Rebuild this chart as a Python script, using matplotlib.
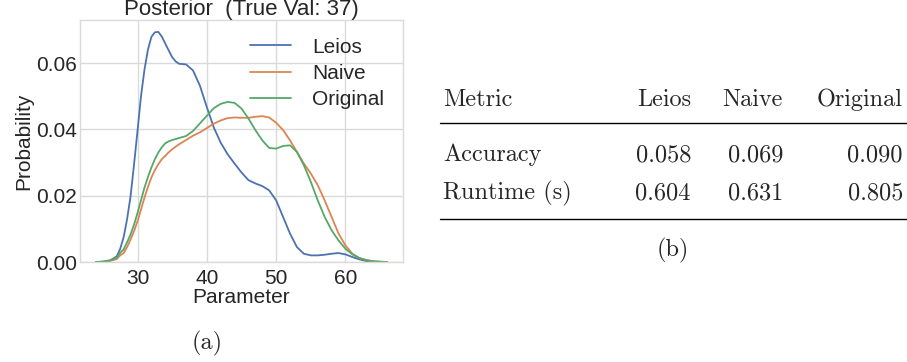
#!/usr/bin/env python3
"""Posterior densities (a) next to a small results table (b)."""

import matplotlib
matplotlib.use("Agg")
import matplotlib.pyplot as plt

# (a) posterior density curves
param = [24, 25, 26, 27, 27.5, 28, 28.5, 29, 29.5, 30, 30.5, 31, 31.5, 32,
         32.5, 33, 33.5, 34, 34.5, 35, 35.5, 36, 37, 38, 39, 40, 41, 42, 43,
         44, 45, 46, 47, 48, 49, 50, 51, 52, 53, 54, 55, 56, 57, 58, 59, 60,
         61, 62, 63, 64, 65, 66]
leios = [0.0, 0.0001, 0.0004, 0.0017, 0.004, 0.0075, 0.013, 0.0199, 0.0295,
         0.0396, 0.050, 0.058, 0.064, 0.0679, 0.0693, 0.0694, 0.068, 0.0659,
         0.0638, 0.0618, 0.0605, 0.0598, 0.0596, 0.0578, 0.0532, 0.0467,
         0.0406, 0.036, 0.0325, 0.0297, 0.027, 0.0247, 0.0237, 0.0229, 0.0216,
         0.0186, 0.0136, 0.0086, 0.0045, 0.0025, 0.0020, 0.0020, 0.0022,
         0.0025, 0.0027, 0.0023, 0.0015, 0.0008, 0.0003, 0.0001, 0.0, 0.0]
naive = [0.0, 0.0001, 0.0003, 0.0009, 0.002, 0.0027, 0.0045, 0.0068, 0.0093,
         0.0123, 0.0158, 0.0194, 0.0226, 0.0255, 0.0277, 0.0295, 0.031, 0.032,
         0.0331, 0.034, 0.0348, 0.0355, 0.0368, 0.0381, 0.0391, 0.0404,
         0.0417, 0.0427, 0.0434, 0.0436, 0.0435, 0.0435, 0.0438, 0.044,
         0.0436, 0.042, 0.0398, 0.0367, 0.0332, 0.0297, 0.0267, 0.0232,
         0.0186, 0.0136, 0.0086, 0.005, 0.0025, 0.0012, 0.0006, 0.0002,
         0.0001, 0.0]
original = [0.0, 0.0001, 0.0005, 0.0013, 0.0028, 0.0038, 0.006, 0.0083,
            0.0113, 0.0148, 0.0186, 0.0224, 0.0256, 0.0285, 0.031, 0.033,
            0.0346, 0.0358, 0.0364, 0.0368, 0.0371, 0.0374, 0.038, 0.0395,
            0.0418, 0.0441, 0.0464, 0.0477, 0.0483, 0.048, 0.0463, 0.0433,
            0.0398, 0.0367, 0.0344, 0.0342, 0.035, 0.0352, 0.0332, 0.0292,
            0.0242, 0.0186, 0.0136, 0.0096, 0.0065, 0.004, 0.0023, 0.0012,
            0.0006, 0.0002, 0.0001, 0.0]
series_names = ["Leios", "Naive", "Original"]
colors = ["#4C72B0", "#DD8452", "#55A868"]

# (b) results table
table_header = ["Metric", "Leios", "Naive", "Original"]
table_rows = [
    ["Accuracy", "0.058", "0.069", "0.090"],
    ["Runtime (s)", "0.604", "0.631", "0.805"],
]

plt.style.use("seaborn-v0_8-whitegrid")
SANS = ["Liberation Sans", "DejaVu Sans"]
SERIF = ["cmr10", "DejaVu Serif"]
TXT = "#262626"
TFS = 17.5

fig = plt.figure(figsize=(9.07, 3.62), dpi=100)

ax = fig.add_axes([0.0882, 0.2762, 0.3561, 0.6686])
for ys, name, c in zip([leios, naive, original], series_names, colors):
    ax.plot(param, ys, color=c, linewidth=1.3, label=name)

ax.set_xlim(21.7, 68.3)
ax.set_ylim(0, 0.073)
ax.set_xticks([30, 40, 50, 60])
ax.set_yticks([0.0, 0.02, 0.04, 0.06])
ax.set_yticklabels(["0.00", "0.02", "0.04", "0.06"])
for lab in ax.get_xticklabels() + ax.get_yticklabels():
    lab.set_fontfamily(SANS)
    lab.set_fontsize(15)
    lab.set_color(TXT)
ax.tick_params(axis="x", length=0, pad=5)
ax.tick_params(axis="y", length=0, pad=2)
ax.set_xlabel("Parameter", fontsize=15, family=SANS, color=TXT, labelpad=0)
ax.set_ylabel("Probability", fontsize=15, family=SANS, color=TXT, labelpad=2)
ax.set_title("Posterior  (True Val: 37)", fontsize=16, family=SANS, color=TXT, pad=2)
for s in ax.spines.values():
    s.set_visible(True)
    s.set_color("#DADADA")
    s.set_linewidth(1.0)
ax.grid(color="#DADADA", linewidth=1.0)

leg = ax.legend(loc="upper right", frameon=False, prop={"family": SANS, "size": 15},
                handlelength=2.0, handletextpad=1.0, labelspacing=0.35,
                bbox_to_anchor=(1.0, 1.005))
for t in leg.get_texts():
    t.set_color(TXT)


def px(x, y):
    return x / 907, 1 - y / 362


fig.text(*px(207, 343), "(a)", fontsize=TFS, family=SERIF, ha="center", va="center")

# table drawn as text in figure pixel coords
col_right = [None, 691, 783, 903]
row_y = [100, 155, 193]
for i, row in enumerate([table_header] + table_rows):
    for j, v in enumerate(row):
        if j == 0:
            fig.text(*px(443, row_y[i]), v, fontsize=TFS, family=SERIF, ha="left", va="center")
        else:
            fig.text(*px(col_right[j], row_y[i]), v, fontsize=TFS, family=SERIF, ha="right", va="center")

for yr in (123, 219):
    fig.add_artist(plt.Line2D([440 / 907, 1.0], [1 - yr / 362] * 2, color="black",
                              linewidth=1.0, transform=fig.transFigure))

fig.text(*px(673, 250), "(b)", fontsize=TFS, family=SERIF, ha="center", va="center")

fig.savefig("out.png", dpi=100)
